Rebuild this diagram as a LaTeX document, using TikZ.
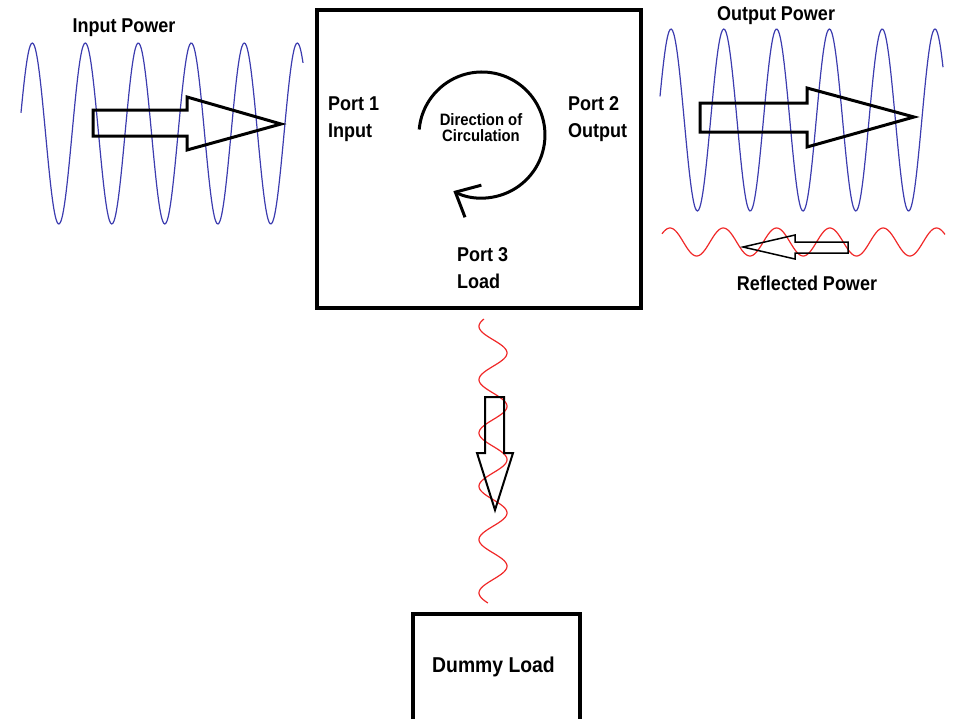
\documentclass[tikz,border=0pt]{standalone}
\usepackage{fontspec}
\setmainfont{Liberation Sans}[FakeStretch=0.9]
\usetikzlibrary{arrows.meta}
\definecolor{waveblue}{RGB}{60,60,175}
\definecolor{wavered}{RGB}{240,40,40}
\begin{document}
\begin{tikzpicture}[x=1pt,y=-1pt,
  lbl/.style={font=\bfseries\fontsize{20}{27}\selectfont, inner sep=0pt},
  bluewave/.style={waveblue, line width=1.2pt},
  redwave/.style={wavered, line width=1.2pt},
  blockarrow/.style={line width=3pt}]
\useasboundingbox (0,0) rectangle (957,718);

% circulator and dummy load
\draw[line width=3.5pt] (317,10) rectangle (641,308);
\draw[line width=3.5pt] (413,722)--(413,614)--(580,614)--(580,722);

% waves
\draw[bluewave] plot[domain=21:303, samples=250, smooth] (\x, {133.5-90.5*cos((\x-32.3)/53*360)});
\draw[bluewave] plot[domain=660:943, samples=250, smooth] (\x, {120-91*cos((\x-671)/52.8*360)});
\draw[redwave] plot[domain=662:945, samples=250, smooth] (\x, {242-14*cos((\x-670)/53.3*360)});
\draw[redwave] plot[domain=319:603, samples=250, smooth] ({493+14*cos((\x-353)/53.3*360)}, \x);

% power arrows
\draw[blockarrow] (93,110)--(187,110)--(187,97)--(281,124)--(187,150)--(187,136)--(93,136)--cycle;
\draw[blockarrow] (700,103)--(807,103)--(807,88)--(914,117)--(807,147)--(807,132)--(700,132)--cycle;
\draw[line width=1.5pt] (848,242)--(795,242)--(795,235)--(743,247)--(795,259)--(795,253)--(848,253)--cycle;
\draw[line width=2pt] (485,397)--(504,397)--(504,453)--(513,453)--(495,510)--(477,453)--(485,453)--cycle;

% direction of circulation
\draw[line width=3pt, -{Straight Barb[length=20pt,width=36pt]}] (419.2,129.5) arc[start angle=185, end angle=477, radius=63];

\node[lbl, anchor=base] (inpow) at (124,32) {Input Power};
\node[lbl, anchor=base] (outpow) at (776,20) {Output Power};
\node[lbl, anchor=base] (refpow) at (807,290) {Reflected Power};
\node[lbl, anchor=base, font=\bfseries\fontsize{21.5}{27}\selectfont] (dummy) at (493.5,672) {Dummy Load};
\node[lbl, anchor=base west, align=left] (port1) at (328,137) {Port 1\\Input};
\node[lbl, anchor=base west, align=left] (port2) at (568,137) {Port 2\\Output};
\node[lbl, anchor=base west, align=left] (port3) at (457,288) {Port 3\\Load};
\node[lbl, anchor=base, align=center, font=\bfseries\fontsize{16.5}{15.5}\selectfont] (circ) at (481,141) {Direction of\\Circulation};
\end{tikzpicture}
\end{document}
